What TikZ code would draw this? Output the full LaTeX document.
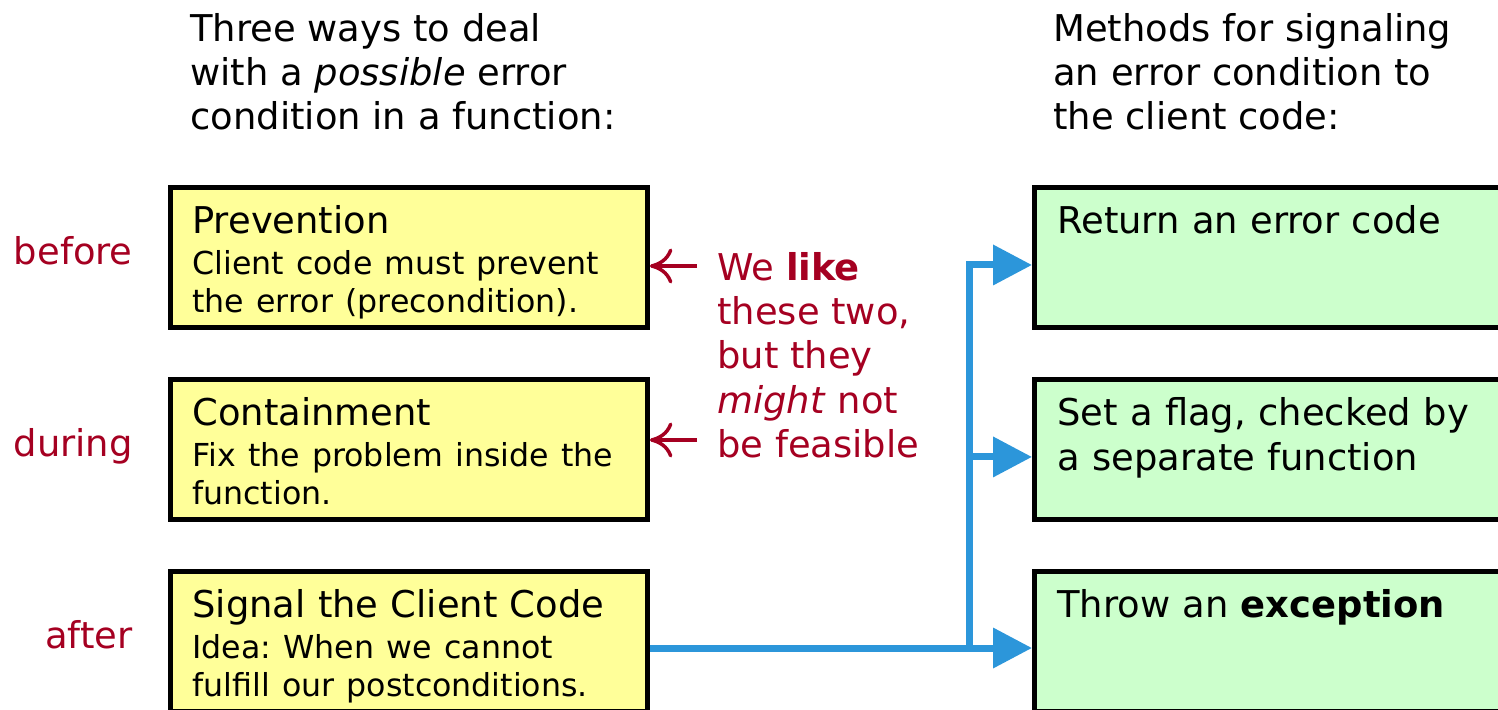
\documentclass[tikz,border=0pt]{standalone}
\usepackage{fontspec}
\setmainfont{DejaVu Sans}
\usetikzlibrary{arrows.meta,positioning,calc}

\definecolor{notered}{RGB}{165,0,33}
\definecolor{flowblue}{RGB}{44,150,218}
\definecolor{probfill}{RGB}{255,255,153}
\definecolor{sigfill}{RGB}{204,255,204}

\newcommand{\titlefont}{\fontsize{21}{25.2}\selectfont}
\newcommand{\bodyfont}{\fontsize{18}{21.6}\selectfont}
\frenchspacing

\begin{document}
\begin{tikzpicture}[
    x=0.02cm, y=-0.02cm,
    node distance=0.94cm,
    probbox/.style={rectangle, draw, line width=0.1cm, fill=probfill, minimum width=9.54cm, minimum height=2.8cm},
    sigbox/.style={rectangle, draw, line width=0.1cm, fill=sigfill, minimum width=9.9cm, minimum height=2.8cm},
    boxtext/.style={anchor=north west, inner sep=0pt, text width=9cm, align=left, font=\titlefont},
    head/.style={anchor=north west, inner sep=0pt, align=left, font=\titlefont},
    when/.style={anchor=base east, inner sep=0pt, text=notered, font=\titlefont},
    note/.style={-{To[length=0.45cm, width=0.7cm]}, line width=0.07cm, notered},
    flow/.style={-{Triangle[length=0.78cm, width=0.78cm]}, line width=0.14cm, flowblue}
]
\useasboundingbox (0,0) rectangle (1498,710);
\clip (0,0) rectangle (1498,710);

% Headings
\node[head] (ways) at (190,13) {Three ways to deal\\with a \textit{possible} error\\condition in a function:};
\node[head] (methods) at (1053,13) {Methods for signaling\\an error condition to\\the client code:};

% How to handle the error
\node[probbox, anchor=north west] (prevention) at (168,185) {};
\node[probbox, below=of prevention] (containment) {};
\node[probbox, below=of containment] (signal) {};

\node[boxtext] (prevention-txt) at ([shift={(0.48cm,-0.41cm)}]prevention.north west)
    {Prevention\par\vspace{1.7pt}\bodyfont Client code must prevent\\the error (precondition).\par};
\node[boxtext] (containment-txt) at ([shift={(0.48cm,-0.41cm)}]containment.north west)
    {Containment\par\vspace{1.7pt}\bodyfont Fix the problem inside the\\function.\par};
\node[boxtext] (signal-txt) at ([shift={(0.48cm,-0.41cm)}]signal.north west)
    {Signal the Client Code\par\vspace{1.7pt}\bodyfont Idea: When we cannot\\fulfill our postconditions.\par};

% When it happens
\node[when] (before) at (133,264) {before};
\node[when] (during) at (133,456) {during};
\node[when] (after) at (133,648) {after};

% Signaling methods
\node[sigbox, anchor=north west] (retcode) at (1032,185) {};
\node[sigbox, below=of retcode] (flagset) {};
\node[sigbox, below=of flagset] (throw) {};

\node[boxtext] (retcode-txt) at ([shift={(0.5cm,-0.41cm)}]retcode.north west) {Return an error code};
\node[boxtext] (flagset-txt) at ([shift={(0.5cm,-0.41cm)}]flagset.north west) {Set a flag, checked by\\a separate function};
\node[boxtext] (throw-txt) at ([shift={(0.5cm,-0.41cm)}]throw.north west) {Throw an \textbf{exception}};

% Remark
\node[head, text=notered] (remark) at (717,252) {We \textbf{like}\\these two,\\but they\\\textit{might} not\\be feasible};
\coordinate (likeA) at (697,266);
\coordinate (likeB) at (697,440);
\draw[note] (likeA) -- (likeA -| prevention.east);
\draw[note] (likeB) -- (likeB -| containment.east);

% Arrows
\coordinate (fork) at (969,648);
\draw[flow] (fork -| signal.east) -- (fork -| throw.west);
\draw[flow] (fork) |- ($(retcode.west)+(0,7.5)$);
\draw[flow] ($(flagset.west -| fork)+(0,7.5)$) -- ($(flagset.west)+(0,7.5)$);

\end{tikzpicture}
\end{document}
